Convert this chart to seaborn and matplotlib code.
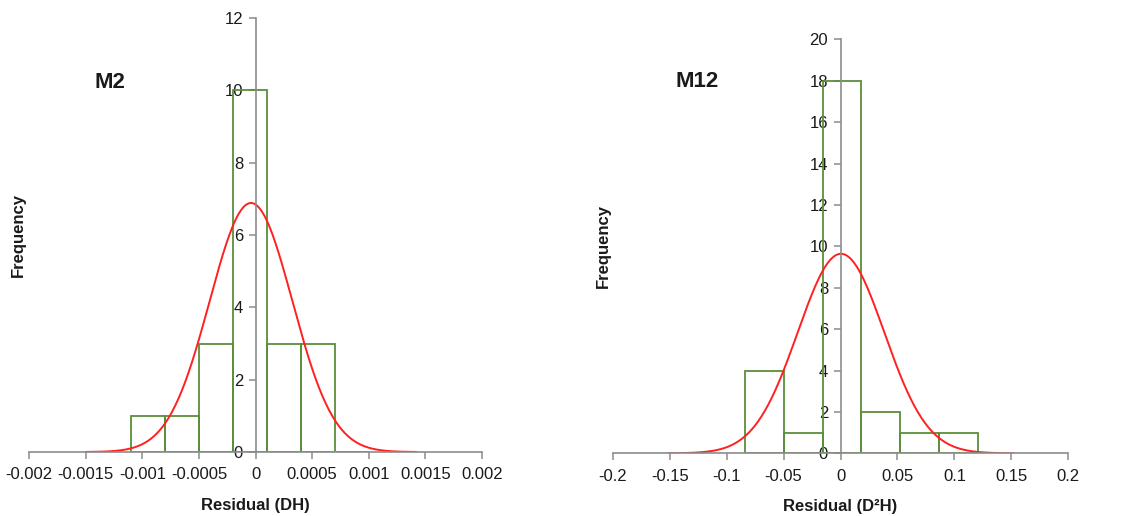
import numpy as np
import pandas as pd
import matplotlib
matplotlib.use("Agg")
import matplotlib.pyplot as plt
import seaborn as sns

# M2 residuals (DH)
m2_edges = [-0.0011, -0.0008, -0.0005, -0.0002, 0.0001, 0.0004, 0.0007, 0.0010]
m2_counts = [1, 1, 3, 10, 3, 3, 0]
m2_mean = -0.00004
m2_sd = 0.000365
m2_xticks = [-0.002, -0.0015, -0.001, -0.0005, 0, 0.0005, 0.001, 0.0015, 0.002]
m2_xlabels = ["-0.002", "-0.0015", "-0.001", "-0.0005", "0", "0.0005", "0.001", "0.0015", "0.002"]
m2_yticks = [0, 2, 4, 6, 8, 10, 12]

# M12 residuals (D2H)
m12_edges = [-0.084, -0.050, -0.0158, 0.0184, 0.0526, 0.0868, 0.121]
m12_counts = [4, 1, 18, 2, 1, 1]
m12_mean = 0.0004
m12_sd = 0.038
m12_xticks = [-0.2, -0.15, -0.1, -0.05, 0, 0.05, 0.1, 0.15, 0.2]
m12_xlabels = ["-0.2", "-0.15", "-0.1", "-0.05", "0", "0.05", "0.1", "0.15", "0.2"]
m12_yticks = [0, 2, 4, 6, 8, 10, 12, 14, 16, 18, 20]

sns.set_style("white")
plt.rcParams["font.family"] = ["Liberation Sans", "DejaVu Sans"]

GREEN = "#5b8f3a"
RED = "#ff2020"
AXIS = "#8c8c8c"
TEXT = "#1a1a1a"

fig = plt.figure(figsize=(11.21, 5.16), dpi=100)
ax1 = fig.add_axes([0.0259, 0.124, 0.4041, 0.841])
ax2 = fig.add_axes([0.5466, 0.1215, 0.4064, 0.8023])


def draw_panel(ax, edges, counts, mean, sd, xticks, xlabels, yticks, xlabel):
    e = np.array(edges)
    centers = (e[:-1] + e[1:]) / 2
    df = pd.DataFrame({"resid": centers, "n": counts})
    sns.histplot(data=df, x="resid", weights="n", bins=list(edges), fill=False,
                 color=GREEN, linewidth=1.3, ax=ax, zorder=1)

    # fitted normal curve, scaled to frequency
    width = e[1] - e[0]
    total = sum(counts)
    xs = np.linspace(mean - 4 * sd, mean + 4 * sd, 300)
    ys = total * width * np.exp(-0.5 * ((xs - mean) / sd) ** 2) / (sd * np.sqrt(2 * np.pi))
    sns.lineplot(x=xs, y=ys, color=RED, linewidth=1.4, ax=ax, zorder=2)

    ax.set_xlim(xticks[0], xticks[-1])
    ax.set_ylim(yticks[0], yticks[-1])
    ax.set_xticks(xticks)
    ax.set_xticklabels(xlabels)
    ax.set_yticks(yticks)
    ax.set_yticklabels([str(v) for v in yticks])

    for s in ["top", "right"]:
        ax.spines[s].set_visible(False)
    ax.spines["left"].set_position(("data", 0))
    for s in ["left", "bottom"]:
        ax.spines[s].set_color(AXIS)
        ax.spines[s].set_linewidth(1.2)
        ax.spines[s].set_zorder(3)
    ax.tick_params(axis="both", direction="out", length=5, width=1.1,
                   color=AXIS, labelsize=12, labelcolor=TEXT,
                   bottom=True, left=True)
    ax.tick_params(axis="y", pad=4)
    ax.tick_params(axis="x", pad=6)
    ax.set_xlabel(xlabel, fontsize=12, fontweight="bold", color=TEXT, labelpad=11)
    ax.set_ylabel("")
    ax.patch.set_alpha(0)


draw_panel(ax1, m2_edges, m2_counts, m2_mean, m2_sd, m2_xticks, m2_xlabels,
           m2_yticks, "Residual (DH)")
draw_panel(ax2, m12_edges, m12_counts, m12_mean, m12_sd, m12_xticks, m12_xlabels,
           m12_yticks, "Residual (D²H)")

fig.text(110 / 1121, 1 - 82 / 516, "M2", fontsize=16, fontweight="bold",
         color=TEXT, ha="center", va="center")
fig.text(697 / 1121, 1 - 81 / 516, "M12", fontsize=16, fontweight="bold",
         color=TEXT, ha="center", va="center")
fig.text(18 / 1121, 1 - 235 / 516, "Frequency", fontsize=12, fontweight="bold",
         color=TEXT, rotation=90, ha="center", va="center")
fig.text(603 / 1121, 1 - 246 / 516, "Frequency", fontsize=12, fontweight="bold",
         color=TEXT, rotation=90, ha="center", va="center")

fig.savefig("out.png", dpi=100, facecolor="white")
plt.close(fig)
